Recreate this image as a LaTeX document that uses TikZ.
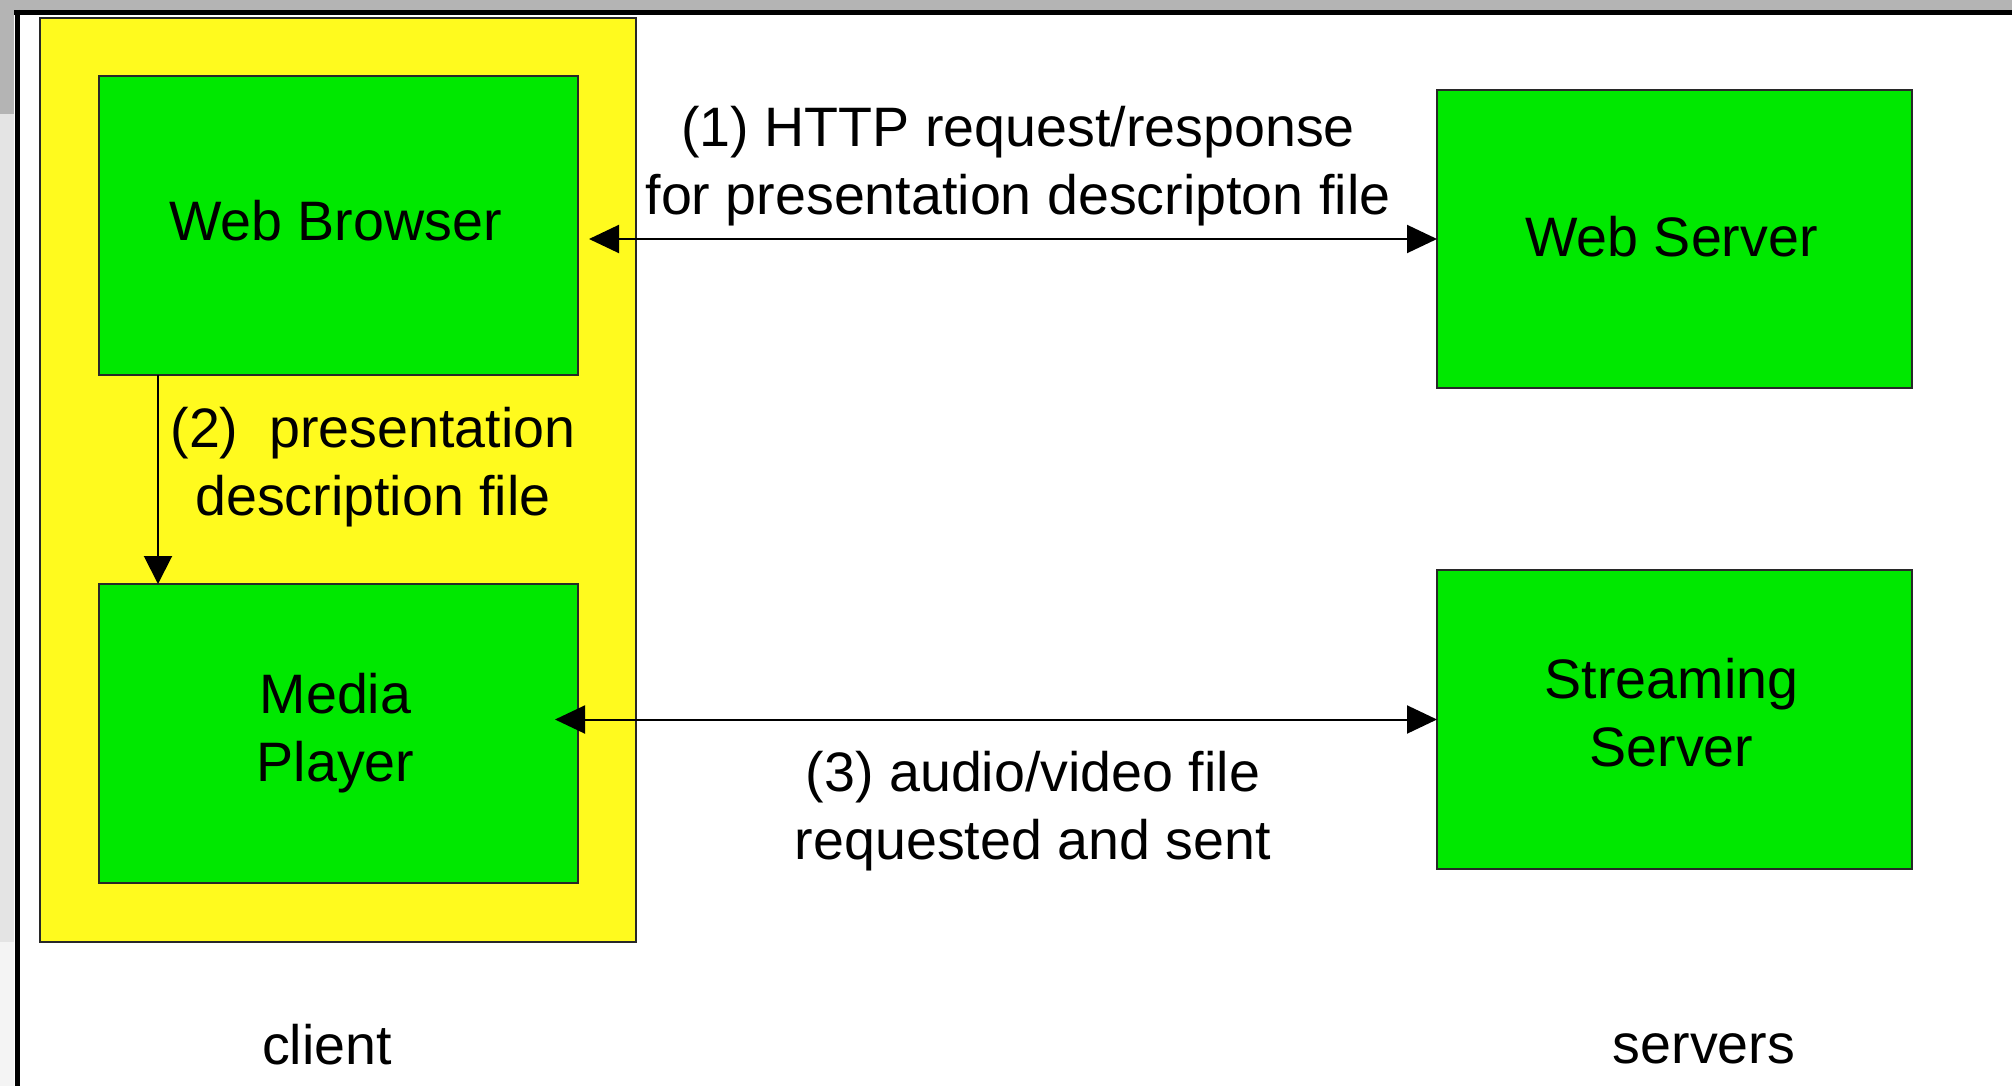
\documentclass[tikz,border=0pt]{standalone}
\usepackage{fontspec}
\setmainfont{Liberation Sans}
\usetikzlibrary{arrows.meta,calc}
\definecolor{boxgreen}{RGB}{0,232,0}
\definecolor{clientyellow}{RGB}{255,250,30}
\definecolor{bandgray}{RGB}{180,180,180}
\definecolor{stripgray}{RGB}{228,228,228}
\definecolor{stripgraylow}{RGB}{244,244,244}
\definecolor{edgegray}{RGB}{40,40,40}
\begin{document}
\begin{tikzpicture}[x=0.5pt,y=-0.5pt,
  every node/.style={font=\fontsize{27.8}{34}\selectfont, inner sep=0pt, outer sep=0pt},
  comp/.style={draw=edgegray, line width=1pt, fill=boxgreen},
  boxtext/.style={align=center, text=black},
  lbl/.style={align=center},
  conn/.style={line width=1pt, draw=black}
]
\useasboundingbox (0,0) rectangle (2012,1086);
% screenshot surroundings
\fill[white] (0,0) rectangle (2012,1086);
\fill[bandgray] (0,0) rectangle (2012,11);
\fill[bandgray] (0,0) rectangle (14,114);
\fill[stripgray] (0,114) rectangle (14,942);
\fill[stripgraylow] (0,942) rectangle (14,1086);
\draw[line width=2.5pt] (14,12.5) -- (2012,12.5);
\draw[line width=2.25pt] (17.5,10) -- (17.5,1086);

% client area
\node[draw=edgegray, line width=1pt, fill=clientyellow, minimum width=298pt, minimum height=462pt] (client) at (338,480) {};

% components
\node[comp, minimum width=239.5pt, minimum height=149.5pt] (wb) at (338.5,225.5) {};
\node[boxtext] (wbt) at ([xshift=-1.5pt,yshift=2.5pt]wb.center) {Web Browser};
\node[comp, minimum width=239.5pt, minimum height=149.5pt] (mp) at (338.5,733.5) {};
\node[boxtext] (mpt) at ([xshift=-1.5pt]mp.center) {Media\\Player};
\node[comp, minimum width=237.5pt, minimum height=149pt] (ws) at (1674.5,239) {};
\node[boxtext] (wst) at ([xshift=-1.5pt,yshift=1.3pt]ws.center) {Web Server};
\node[comp, minimum width=237.5pt, minimum height=149.5pt] (ss) at (1674.5,719.5) {};
\node[boxtext] (sst) at ([xshift=-1.5pt,yshift=3.2pt]ss.center) {Streaming\\Server};

% connectors
\draw[conn, {Triangle[length=15pt,width=14pt]}-{Triangle[length=15pt,width=14pt]}, shorten <=5.5pt] (wb.east |- ws.west) -- (ws.west);
\draw[conn, -{Triangle[length=14pt,width=14pt]}] ([xshift=29.5pt]wb.south west) -- ([xshift=29.5pt]mp.north west);
\draw[conn, {Triangle[length=15pt,width=14pt]}-{Triangle[length=15pt,width=14pt]}, shorten <=-11.5pt] (mp.east |- ss.west) -- (ss.west);

% labels
\node[lbl] (l1) at (1018,166) {(1) HTTP request/response\\for presentation descripton file};
\node[lbl] (l2) at (373,467.5) {(2)\ \ presentation\\description file};
\node[lbl] (l3) at (1033,811) {(3) audio/video file\\requested and sent};
\node (cl) at (327,1045) {client};
\node (sv) at (1704,1048.5) {servers};
\end{tikzpicture}
\end{document}
